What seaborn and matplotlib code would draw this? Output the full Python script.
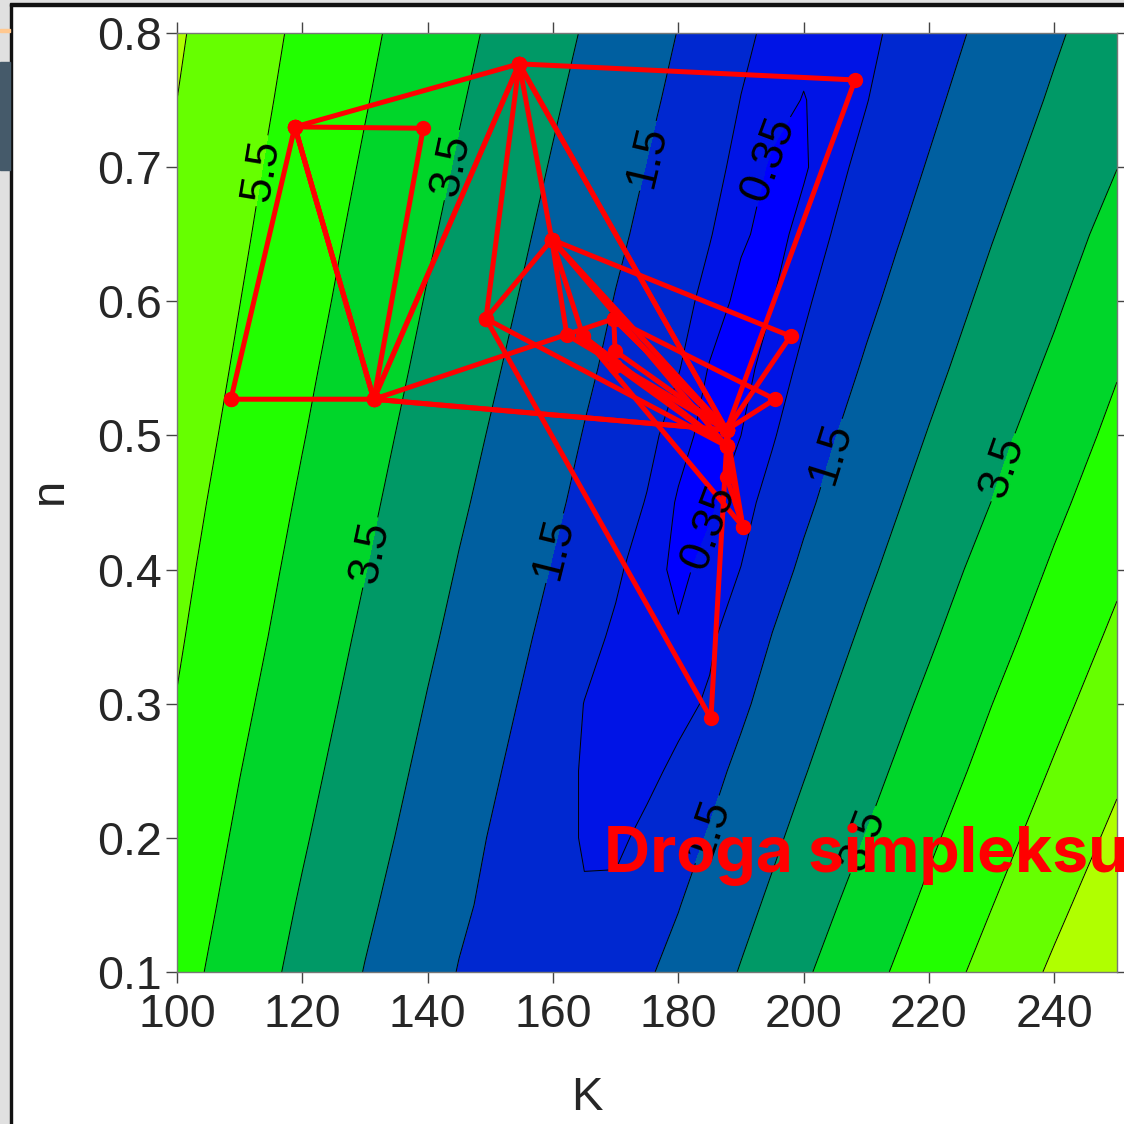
import numpy as np
import pandas as pd
import matplotlib
matplotlib.use("Agg")
import matplotlib.pyplot as plt
from matplotlib.patches import Rectangle
import seaborn as sns

sns.set_style("ticks")
plt.rcParams['font.family'] = ['Liberation Sans', 'DejaVu Sans']

# objective surface sampled on a (K, n) grid, rows from n = 0.80 down to n = 0.10
K_GRID = [100, 110, 120, 130, 140, 145, 150, 155, 160, 165, 170, 175,
          180, 185, 190, 195, 200, 205, 210, 215, 220, 230, 240, 250]
N_GRID = [0.80, 0.75, 0.70, 0.65, 0.60, 0.55, 0.50, 0.45, 0.40, 0.35, 0.30, 0.25, 0.20, 0.15, 0.10]
F = np.array([
    [6.60, 5.96, 5.32, 4.68, 4.04, 3.72, 3.40, 3.08, 2.76, 2.44, 2.12, 1.80, 1.48, 1.17, 0.86, 0.64, 0.48, 0.51, 0.65, 0.84, 1.13, 1.74, 2.38, 3.00],
    [6.50, 5.86, 5.20, 4.55, 3.90, 3.57, 3.25, 2.92, 2.60, 2.28, 1.96, 1.64, 1.33, 1.03, 0.74, 0.52, 0.33, 0.54, 0.73, 1.03, 1.33, 1.97, 2.61, 3.24],
    [6.40, 5.74, 5.08, 4.41, 3.75, 3.42, 3.10, 2.77, 2.44, 2.12, 1.80, 1.48, 1.19, 0.90, 0.62, 0.28, 0.30, 0.62, 0.91, 1.23, 1.55, 2.21, 2.86, 3.49],
    [6.29, 5.63, 4.95, 4.27, 3.60, 3.27, 2.94, 2.61, 2.28, 1.96, 1.63, 1.34, 1.06, 0.78, 0.42, 0.19, 0.49, 0.79, 1.12, 1.45, 1.78, 2.46, 3.11, 3.80],
    [6.18, 5.51, 4.82, 4.13, 3.45, 3.12, 2.78, 2.45, 2.12, 1.80, 1.47, 1.20, 0.93, 0.59, 0.22, 0.34, 0.66, 1.00, 1.34, 1.69, 2.03, 2.71, 3.37, 4.12],
    [6.07, 5.39, 4.68, 3.98, 3.30, 2.96, 2.62, 2.28, 1.96, 1.63, 1.33, 1.06, 0.78, 0.32, 0.22, 0.51, 0.86, 1.22, 1.59, 1.93, 2.28, 2.96, 3.66, 4.44],
    [5.96, 5.26, 4.54, 3.83, 3.14, 2.79, 2.45, 2.12, 1.79, 1.47, 1.19, 0.90, 0.51, 0.19, 0.35, 0.70, 1.09, 1.48, 1.84, 2.19, 2.54, 3.23, 3.98, 4.74],
    [5.84, 5.12, 4.39, 3.68, 2.97, 2.62, 2.29, 1.96, 1.63, 1.32, 1.03, 0.72, 0.30, 0.28, 0.57, 0.94, 1.35, 1.73, 2.09, 2.45, 2.81, 3.51, 4.30, 5.04],
    [5.72, 4.98, 4.24, 3.52, 2.81, 2.45, 2.12, 1.79, 1.46, 1.14, 0.83, 0.52, 0.25, 0.49, 0.76, 1.21, 1.63, 1.99, 2.36, 2.72, 3.08, 3.83, 4.62, 5.35],
    [5.60, 4.84, 4.09, 3.35, 2.63, 2.29, 1.96, 1.62, 1.28, 0.92, 0.67, 0.52, 0.40, 0.67, 1.03, 1.52, 1.89, 2.27, 2.64, 3.00, 3.37, 4.16, 4.93, 5.67],
    [5.47, 4.68, 3.93, 3.18, 2.46, 2.12, 1.79, 1.45, 1.08, 0.74, 0.61, 0.48, 0.62, 0.81, 1.36, 1.79, 2.17, 2.55, 2.92, 3.30, 3.69, 4.49, 5.25, 6.00],
    [5.33, 4.52, 3.76, 3.01, 2.29, 1.96, 1.62, 1.29, 0.97, 0.70, 0.54, 0.64, 0.85, 1.27, 1.68, 2.06, 2.45, 2.84, 3.22, 3.61, 4.01, 4.81, 5.58, 6.35],
    [5.18, 4.36, 3.59, 2.83, 2.13, 1.79, 1.46, 1.22, 0.97, 0.70, 0.66, 0.86, 1.21, 1.56, 1.96, 2.35, 2.75, 3.14, 3.53, 3.94, 4.35, 5.14, 5.92, 6.71],
    [5.02, 4.20, 3.41, 2.65, 1.96, 1.62, 1.37, 1.18, 0.99, 0.80, 0.85, 1.28, 1.47, 1.84, 2.25, 2.65, 3.05, 3.46, 3.87, 4.27, 4.68, 5.48, 6.28, 7.08],
    [4.86, 4.03, 3.24, 2.47, 1.79, 1.47, 1.30, 1.12, 0.95, 1.07, 1.25, 1.42, 1.73, 2.14, 2.55, 2.96, 3.38, 3.79, 4.20, 4.61, 5.02, 5.83, 6.65, 7.46],
])

LEVELS = [0.35, 0.75, 1.5, 2.5, 3.5, 4.5, 5.5, 6.5]
LABELLED = [0.35, 1.5, 3.5, 5.5]
PLAIN = [0.75, 2.5, 4.5, 6.5]
FILL_COLORS = ["#0000ff", "#0014e6", "#0028d0", "#005fa0", "#009966",
               "#00d62a", "#22ff00", "#66ff00", "#b0ff00"]

# simplex vertices (K, n) and the simplexes visited by the search
VERTEX_K = {"P1": 108.6, "P2": 118.8, "P3": 139.3, "P4": 131.4, "P5": 154.6, "P6": 149.3,
            "P7": 159.8, "P8": 162.2, "P9": 164.8, "P10": 169.7, "P11": 169.9, "P11b": 169.9,
            "P12": 208.2, "P13": 197.9, "P14": 195.4, "P15": 187.7, "P16": 187.7, "P16b": 187.7,
            "P17": 190.3, "P18": 185.2}
VERTEX_N = {"P1": 0.527, "P2": 0.730, "P3": 0.729, "P4": 0.527, "P5": 0.777, "P6": 0.587,
            "P7": 0.646, "P8": 0.575, "P9": 0.574, "P10": 0.587, "P11": 0.563, "P11b": 0.552,
            "P12": 0.765, "P13": 0.574, "P14": 0.527, "P15": 0.504, "P16": 0.492, "P16b": 0.469,
            "P17": 0.432, "P18": 0.289}
SIMPLEXES = [("P1", "P2", "P4"), ("P2", "P3", "P4"), ("P2", "P5", "P4"), ("P5", "P15", "P4"),
             ("P4", "P10", "P15"), ("P5", "P12", "P15"), ("P5", "P6", "P7"), ("P7", "P13", "P15"),
             ("P7", "P8", "P15"), ("P7", "P9", "P16"), ("P10", "P14", "P15"), ("P10", "P11", "P15"),
             ("P11b", "P16", "P15"), ("P6", "P18", "P16"), ("P16", "P17", "P9"), ("P15", "P16b", "P17")]

recs = []
for i, tri in enumerate(SIMPLEXES):
    for name in list(tri) + [tri[0]]:
        recs.append({"step": i, "K": VERTEX_K[name], "n": VERTEX_N[name]})
path = pd.DataFrame(recs)

fig = plt.figure(figsize=(11.24, 11.24), dpi=100)
ax = fig.add_axes([177 / 1124, 1 - 972 / 1124, 940 / 1124, 939 / 1124])

ax.contourf(K_GRID, N_GRID, F, levels=[-1] + LEVELS + [50], colors=FILL_COLORS)
ax.contour(K_GRID, N_GRID, F, levels=PLAIN, colors="black", linewidths=0.7)
cs = ax.contour(K_GRID, N_GRID, F, levels=LABELLED, colors="black", linewidths=0.7)
ax.clabel(cs, inline=True, fontsize=32, fmt="%g",
          manual=[(114.0, 0.697), (144.4, 0.701), (175.5, 0.708), (196.0, 0.703),
                  (131.6, 0.412), (159.8, 0.4165), (183.9, 0.433), (205.8, 0.485),
                  (233.2, 0.474), (185.9, 0.204), (209.8, 0.198)])

sns.lineplot(data=path, x="K", y="n", units="step", estimator=None, sort=False, ax=ax,
             color="#ff0000", linewidth=3.6, marker="o", markersize=11, markeredgewidth=0)

ax.set_xlim(100, 250)
ax.set_ylim(0.1, 0.8)
ax.set_xticks(range(100, 241, 20))
ax.set_yticks(np.round(np.arange(0.1, 0.81, 0.1), 1))
ax.tick_params(direction="out", length=8, width=1, top=True, right=True,
               labelsize=33.5, color="#444444")
ax.tick_params(axis="x", pad=7)
ax.tick_params(axis="y", pad=3)
for sp in ax.spines.values():
    sp.set_color("#777777")
    sp.set_linewidth(1)
ax.set_xlabel("K", fontsize=34)
ax.set_ylabel("n", fontsize=34)
ax.xaxis.set_label_coords((587 - 177) / 940, -0.111)
ax.yaxis.set_label_coords(-0.112, 0.512)

fig.text(604 / 1124, 1 - 872 / 1124, "Droga simpleksu", color="#ff0000",
         fontsize=46, fontweight="bold", family="Inter", va="baseline")

# window frame around the plot
W = 1124.0
fig.patches.append(Rectangle((0, 0), 10 / W, 1, transform=fig.transFigure, color="#e0e0e0", zorder=-5))
fig.patches.append(Rectangle((0, 1 - 3.5 / W), 1, 3.5 / W, transform=fig.transFigure, color="#e0e0e0", zorder=-5))
fig.patches.append(Rectangle((10 / W, 0), 2 / W, 1 - 3.5 / W, transform=fig.transFigure, color="#111111", zorder=-4))
fig.patches.append(Rectangle((10 / W, 1 - 5.5 / W), 1, 2 / W, transform=fig.transFigure, color="#111111", zorder=-4))
fig.patches.append(Rectangle((0, 1 - 170 / W), 10 / W, 108 / W, transform=fig.transFigure, color="#455a6a", zorder=-4))
fig.patches.append(Rectangle((0, 1 - 32 / W), 10 / W, 2.5 / W, transform=fig.transFigure, color="#ffc890", zorder=-4))

fig.savefig("out.png", dpi=100)
